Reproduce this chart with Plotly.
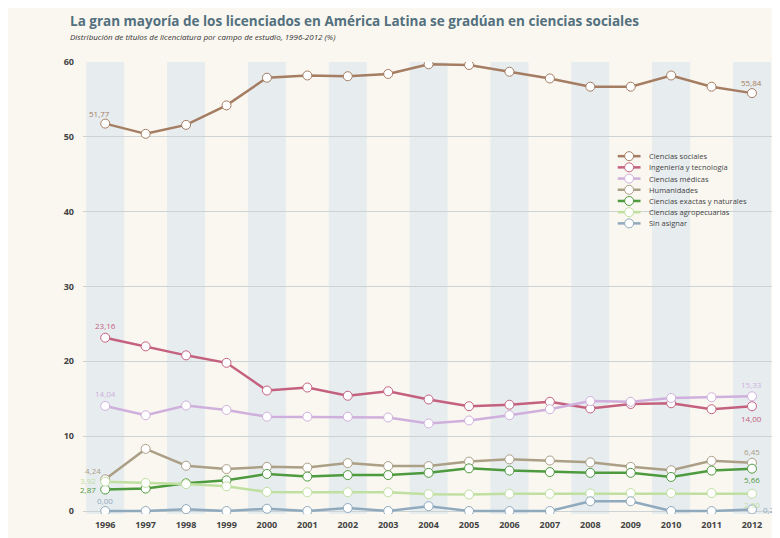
import plotly.graph_objects as go

years = list(range(1996, 2013))

series_names = [
    "Ciencias sociales", "Ingeniería y tecnología", "Ciencias médicas", "Humanidades",
    "Ciencias exactas y naturales", "Ciencias agropecuarias", "Sin asignar",
]
sociales = [51.77, 50.4, 51.6, 54.2, 57.9, 58.2, 58.1, 58.4, 59.7, 59.6, 58.7, 57.8, 56.7, 56.7, 58.2, 56.7, 55.84]
ingenieria = [23.16, 22.0, 20.8, 19.8, 16.1, 16.5, 15.4, 16.0, 14.9, 14.0, 14.2, 14.6, 13.7, 14.3, 14.4, 13.6, 14.00]
medicas = [14.04, 12.8, 14.1, 13.5, 12.6, 12.6, 12.6, 12.5, 11.7, 12.1, 12.8, 13.6, 14.7, 14.6, 15.1, 15.2, 15.33]
humanidades = [4.24, 8.3, 6.05, 5.6, 5.9, 5.8, 6.4, 6.0, 6.0, 6.6, 6.9, 6.75, 6.5, 5.9, 5.45, 6.7, 6.45]
exactas = [2.87, 3.0, 3.7, 4.1, 4.95, 4.6, 4.8, 4.8, 5.1, 5.7, 5.4, 5.2, 5.1, 5.1, 4.55, 5.4, 5.66]
agro = [3.92, 3.75, 3.6, 3.3, 2.55, 2.5, 2.5, 2.5, 2.25, 2.2, 2.3, 2.3, 2.35, 2.4, 2.4, 2.4, 2.30]
sin_asignar = [0.00, 0.0, 0.25, 0.0, 0.3, 0.0, 0.4, 0.0, 0.65, 0.0, 0.0, 0.0, 1.3, 1.3, 0.0, 0.0, 0.21]

values = [sociales, ingenieria, medicas, humanidades, exactas, agro, sin_asignar]
colors = ["#a47d62", "#c4617f", "#cfb0dc", "#ab9f86", "#4e9a3e", "#bfe0a0", "#8fa9bd"]

first_labels = ["51,77", "23,16", "14,04", "4,24", "2,87", "3,92", "0,00"]
last_labels = ["55,84", "14,00", "15,33", "6,45", "5,66", "2,30", "0,21"]
# (xshift, yshift) in pixels, positive yshift = up
first_pos = [(-6, 10), (0, 12), (0, 12), (-12, 9), (-17, 0), (-17, 1), (0, 11)]
last_pos = [(0, 11), (0, -12), (0, 12), (0, 11), (0, -11), (0, -11), (19, 0)]

fig = go.Figure()

for name, vals, col in zip(series_names, values, colors):
    fig.add_trace(go.Scatter(
        x=years, y=vals, name=name, mode="lines+markers", showlegend=False,
        line=dict(color=col, width=2.5),
        marker=dict(size=9, color="white", line=dict(color=col, width=1)),
    ))

# alternating background bands
for i, yr in enumerate(years):
    if i % 2 == 0:
        fig.add_shape(type="rect", xref="x", yref="paper", x0=yr - 0.47, x1=yr + 0.47,
                      y0=0, y1=1, fillcolor="#e7ecef", line_width=0, layer="below")

for vals, col, fl, ll, fp, lp in zip(values, colors, first_labels, last_labels, first_pos, last_pos):
    fig.add_annotation(x=years[0], y=vals[0], text=fl, showarrow=False,
                       xshift=fp[0], yshift=fp[1], font=dict(size=8, color=col))
    fig.add_annotation(x=years[-1], y=vals[-1], text=ll, showarrow=False,
                       xshift=lp[0], yshift=lp[1], font=dict(size=8, color=col))

# compact legend (built from the series names and colours)
plot_h = 456.0
for i, (name, col) in enumerate(zip(series_names, colors)):
    yp = 1 - (95 + i * 11.3) / plot_h
    fig.add_shape(type="line", xref="paper", yref="paper", x0=0.775, x1=0.808, y0=yp, y1=yp,
                  line=dict(color=col, width=2.5))
    fig.add_shape(type="circle", xref="paper", yref="paper", xsizemode="pixel", ysizemode="pixel",
                  xanchor=0.7915, yanchor=yp, x0=-4.5, x1=4.5, y0=-4.5, y1=4.5,
                  fillcolor="white", line=dict(color=col, width=1))
    fig.add_annotation(xref="paper", yref="paper", x=0.818, y=yp, xanchor="left", yanchor="middle",
                       text=name, showarrow=False, font=dict(size=7.5, color="#444444"))

fig.add_annotation(xref="paper", yref="paper", x=-0.022, y=1.0, yshift=30, xanchor="left", yanchor="bottom",
                   text="<b>La gran mayoría de los licenciados en América Latina se gradúan en ciencias sociales</b>",
                   showarrow=False, font=dict(size=13.5, color="#52707e", family="Open Sans"))
fig.add_annotation(xref="paper", yref="paper", x=-0.022, y=1.0, yshift=18, xanchor="left", yanchor="bottom",
                   text="<i>Distribución de títulos de licenciatura por campo de estudio, 1996-2012 (%)</i>",
                   showarrow=False, font=dict(size=8, color="#333333", family="Open Sans"))

fig.update_layout(
    width=772, height=530,
    margin=dict(l=75, r=7, t=54, b=20),
    paper_bgcolor="#faf7f0", plot_bgcolor="#faf7f0",
    font=dict(family="Open Sans", color="#444444"),
    showlegend=False,
    xaxis=dict(range=[1995.45, 2012.52], tickmode="array", tickvals=years,
               ticktext=[f"<b>{y}</b>" for y in years], showgrid=False, zeroline=False,
               tickfont=dict(size=9, color="#444444"), ticklen=0, ticklabelstandoff=4),
    yaxis=dict(range=[-0.4, 60], tickvals=[0, 10, 20, 30, 40, 50, 60],
               ticktext=[f"<b>{v}</b>" for v in [0, 10, 20, 30, 40, 50, 60]],
               showgrid=True, gridcolor="#cdd2d4", gridwidth=1, zeroline=False,
               tickfont=dict(size=9, color="#444444"), ticklabelstandoff=8),
)

fig.write_html("out.html")
